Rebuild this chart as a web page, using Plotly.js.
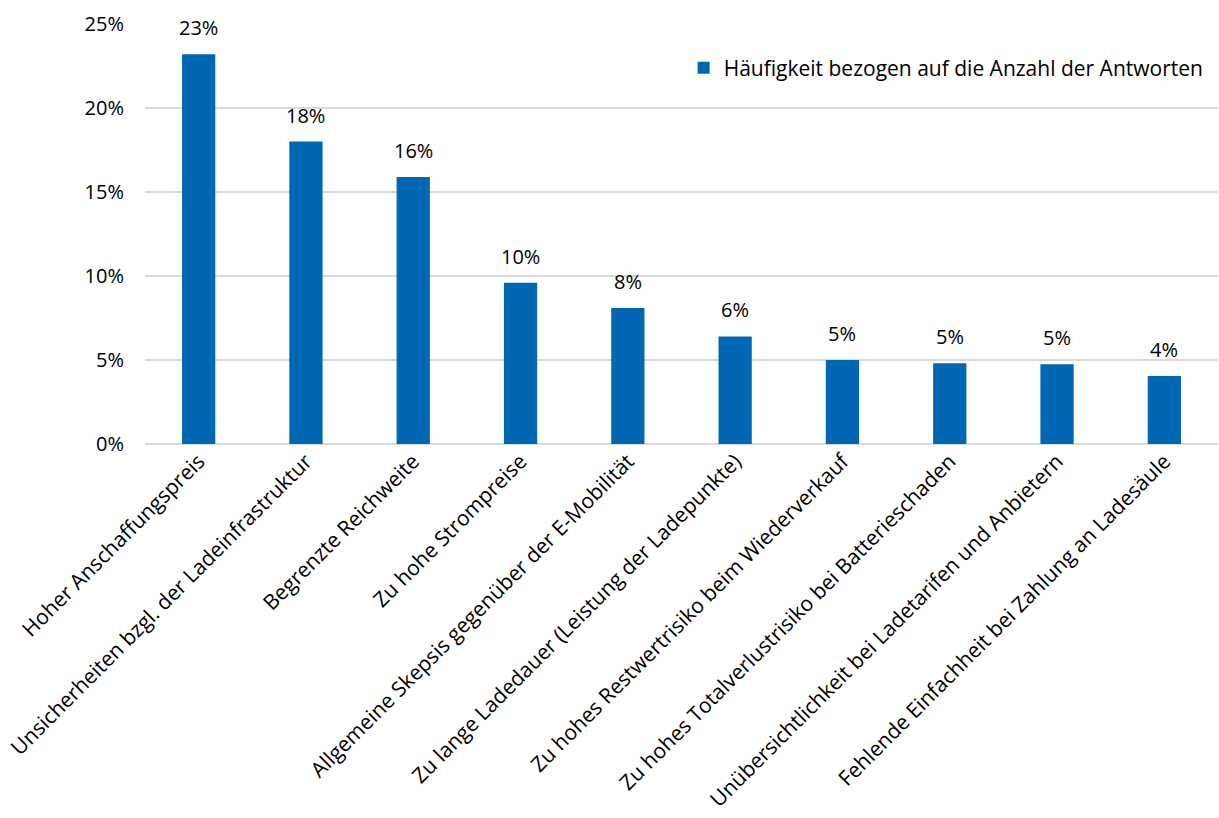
<!DOCTYPE html>
<html>
<head>
<meta charset="utf-8">
<script src="https://cdn.plot.ly/plotly-3.0.1.min.js"></script>
<style>html,body{margin:0;padding:0;background:#fff;}#chart{width:1219px;height:818px;}</style>
</head>
<body>
<div id="chart"></div>
<script>
const categories = [
  "Hoher Anschaffungspreis",
  "Unsicherheiten bzgl. der Ladeinfrastruktur",
  "Begrenzte Reichweite",
  "Zu hohe Strompreise",
  "Allgemeine Skepsis gegenüber der E-Mobilität",
  "Zu lange Ladedauer (Leistung der Ladepunkte)",
  "Zu hohes Restwertrisiko beim Wiederverkauf",
  "Zu hohes Totalverlustrisiko bei Batterieschaden",
  "Unübersichtlichkeit bei Ladetarifen und Anbietern",
  "Fehlende Einfachheit bei Zahlung an Ladesäule"
];
const values = [0.232, 0.180, 0.159, 0.096, 0.081, 0.064, 0.050, 0.048, 0.0475, 0.0405];
const seriesName = "Häufigkeit bezogen auf die Anzahl der Antworten";
const yTickVals = [0, 0.05, 0.10, 0.15, 0.20, 0.25];
const yTickText = ["0%", "5%", "10%", "15%", "20%", "25%"];

const font = "'Open Sans', sans-serif";
const trace = {
  type: "bar",
  x: categories,
  y: values,
  name: seriesName,
  marker: {color: "#0067B4"},
  width: 0.31,
  showlegend: true,
  hoverinfo: "none"
};
const annotations = categories.map((c, i) => ({
  x: c, y: values[i], xref: "x", yref: "y",
  text: Math.round(values[i] * 100) + "%",
  showarrow: false, yanchor: "bottom", yshift: 11,
  font: {family: font, size: 20, color: "#000"}
}));
const layout = {
  width: 1219,
  height: 818,
  margin: {l: 145, r: 1, t: 23.5, b: 374},
  paper_bgcolor: "#fff",
  plot_bgcolor: "#fff",
  font: {family: font, size: 20, color: "#000"},
  showlegend: true,
  annotations: annotations,
  legend: {x: 0.502, y: 0.895, xanchor: "left", yanchor: "middle",
           font: {family: font, size: 21, color: "#000"}, bgcolor: "rgba(0,0,0,0)"},
  xaxis: {tickangle: -45, showgrid: false, showline: false, ticks: "",
          tickfont: {family: font, size: 21, color: "#000"}, automargin: false},
  yaxis: {range: [0, 0.25], tickvals: yTickVals, ticktext: yTickText,
          gridcolor: "#d9d9d9", gridwidth: 1.5, zeroline: true, zerolinecolor: "#d9d9d9",
          zerolinewidth: 1.5, showline: false, ticks: "", ticklen: 0, ticklabelstandoff: 20,
          tickfont: {family: font, size: 20, color: "#000"}, automargin: false}
};
Plotly.newPlot("chart", [trace], layout, {displayModeBar: false, staticPlot: true});
</script>
</body>
</html>
